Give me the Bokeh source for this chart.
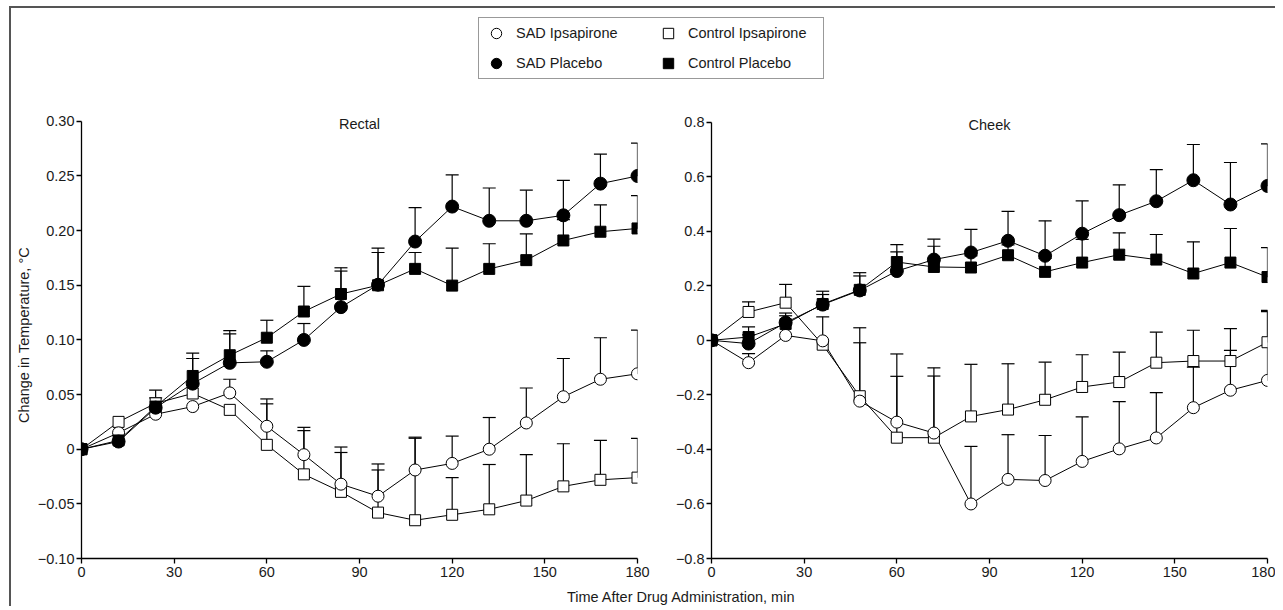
from bokeh.plotting import figure
from bokeh.models import (ColumnDataSource, Whisker, TeeHead, FixedTicker, Label,
                          Legend, LegendItem)
from bokeh.layouts import column, row
from bokeh.embed import file_html
from bokeh.resources import INLINE

# ---------------- data ----------------
times = [0, 12, 24, 36, 48, 60, 72, 84, 96, 108, 120, 132, 144, 156, 168, 180]

# Rectal
sad_ips_r = [0, 0.015, 0.032, 0.039, 0.0515, 0.021, -0.005, -0.032, -0.043, -0.019, -0.013, 0.000, 0.024, 0.048, 0.064, 0.069]
sad_ips_r_top = [0, 0.015, 0.032, 0.039, 0.064, 0.046, 0.020, 0.002, -0.0135, 0.010, 0.012, 0.029, 0.056, 0.083, 0.102, 0.109]
ctl_ips_r = [0, 0.025, 0.042, 0.051, 0.036, 0.004, -0.023, -0.039, -0.058, -0.065, -0.060, -0.055, -0.047, -0.034, -0.028, -0.026]
ctl_ips_r_top = [0, 0.025, 0.042, 0.051, 0.036, 0.0415, 0.017, -0.003, -0.019, 0.011, -0.026, -0.014, -0.005, 0.005, 0.008, 0.010]
sad_pla_r = [0, 0.007, 0.038, 0.060, 0.079, 0.080, 0.100, 0.130, 0.1505, 0.190, 0.222, 0.209, 0.209, 0.214, 0.243, 0.250]
sad_pla_r_top = [0, 0.007, 0.047, 0.083, 0.1055, 0.090, 0.115, 0.163, 0.180, 0.221, 0.251, 0.239, 0.237, 0.246, 0.270, 0.280]
ctl_pla_r = [0, 0.008, 0.039, 0.067, 0.086, 0.102, 0.126, 0.142, 0.150, 0.165, 0.1497, 0.165, 0.173, 0.191, 0.199, 0.202]
ctl_pla_r_top = [0, 0.008, 0.054, 0.088, 0.1085, 0.118, 0.149, 0.166, 0.184, 0.180, 0.184, 0.188, 0.197, 0.210, 0.2235, 0.232]

# Cheek
sad_ips_c = [0, -0.082, 0.018, -0.002, -0.223, -0.300, -0.340, -0.600, -0.510, -0.514, -0.444, -0.398, -0.358, -0.247, -0.183, -0.147]
sad_ips_c_top = [0, -0.049, 0.018, 0.086, 0.046, -0.050, -0.101, -0.389, -0.346, -0.349, -0.281, -0.225, -0.192, -0.098, -0.037, 0.105]
ctl_ips_c = [0, 0.104, 0.138, -0.016, -0.205, -0.357, -0.357, -0.279, -0.254, -0.218, -0.171, -0.153, -0.082, -0.076, -0.076, -0.007]
ctl_ips_c_top = [0, 0.141, 0.205, -0.016, -0.009, -0.132, -0.131, -0.088, -0.086, -0.080, -0.053, -0.043, 0.030, 0.037, 0.043, 0.110]
sad_pla_c = [0, -0.012, 0.065, 0.131, 0.183, 0.254, 0.296, 0.322, 0.365, 0.310, 0.391, 0.459, 0.510, 0.587, 0.498, 0.566]
sad_pla_c_top = [0, 0.020, 0.100, 0.180, 0.248, 0.324, 0.371, 0.407, 0.473, 0.438, 0.511, 0.570, 0.626, 0.718, 0.652, 0.720]
ctl_pla_c = [0, 0.012, 0.060, 0.133, 0.185, 0.287, 0.269, 0.267, 0.312, 0.251, 0.285, 0.314, 0.296, 0.245, 0.285, 0.232]
ctl_pla_c_top = [0, 0.049, 0.090, 0.168, 0.236, 0.351, 0.345, 0.310, 0.350, 0.300, 0.370, 0.394, 0.388, 0.361, 0.410, 0.340]

series_names = ["SAD Ipsapirone", "Control Ipsapirone", "SAD Placebo", "Control Placebo"]

x_ticks = [0, 30, 60, 90, 120, 150, 180]
rect_ticks = [-0.10, -0.05, 0.0, 0.05, 0.10, 0.15, 0.20, 0.25, 0.30]
rect_tick_labels = ["\u22120.10", "\u22120.05", "0", "0.05", "0.10", "0.15", "0.20", "0.25", "0.30"]
cheek_ticks = [-0.8, -0.6, -0.4, -0.2, 0.0, 0.2, 0.4, 0.6, 0.8]
cheek_tick_labels = ["\u22120.8", "\u22120.6", "\u22120.4", "\u22120.2", "0", "0.2", "0.4", "0.6", "0.8"]

# ---------------- styles ----------------
FONT = "Liberation Sans"
FS = "14.5px"
TXT = "#1a1a1a"
STYLES = {
    "SAD Ipsapirone": dict(marker="circle", size=12, fill_color="white"),
    "Control Ipsapirone": dict(marker="square", size=11, fill_color="white"),
    "SAD Placebo": dict(marker="circle", size=13, fill_color="black"),
    "Control Placebo": dict(marker="square", size=11, fill_color="black"),
}
DRAW_ORDER = ["Control Ipsapirone", "SAD Ipsapirone", "SAD Placebo", "Control Placebo"]


def make_panel(width, min_left, min_right, y_rng, y_bounds, yticks, ylabels, title, data,
               ylabel=None):
    p = figure(width=width, height=486, x_range=(0, 180), y_range=y_rng,
               output_backend="svg", toolbar_location=None,
               min_border_left=min_left, min_border_right=min_right,
               min_border_top=11, min_border_bottom=28)
    p.outline_line_color = None
    p.grid.visible = False
    p.background_fill_color = "white"
    p.border_fill_color = "white"

    for ax in (p.xaxis[0], p.yaxis[0]):
        ax.axis_line_color = "black"
        ax.axis_line_width = 1.3
        ax.major_tick_line_color = "black"
        ax.major_tick_line_width = 1.3
        ax.major_tick_in = 0
        ax.major_tick_out = 5
        ax.minor_tick_line_color = None
        ax.major_label_text_font = FONT
        ax.major_label_text_font_size = FS
        ax.major_label_text_color = TXT
    p.xaxis.ticker = FixedTicker(ticks=x_ticks)
    p.xaxis.major_label_standoff = 3
    p.yaxis.ticker = FixedTicker(ticks=yticks)
    p.yaxis.major_label_overrides = dict(zip(yticks, ylabels))
    p.yaxis.major_label_standoff = 2
    p.yaxis.bounds = y_bounds
    if ylabel:
        p.yaxis.axis_label = ylabel
        p.yaxis.axis_label_text_font = FONT
        p.yaxis.axis_label_text_font_size = FS
        p.yaxis.axis_label_text_font_style = "normal"
        p.yaxis.axis_label_text_color = TXT
        p.yaxis.axis_label_standoff = 3

    # lines
    for name in DRAW_ORDER:
        vals, _ = data[name]
        p.line(times, vals, line_color="black", line_width=1)

    # error bars (upward only)
    for name in DRAW_ORDER:
        vals, tops = data[name]
        xs = [t for t, v, u in zip(times, vals, tops) if u > v]
        lo = [v for v, u in zip(vals, tops) if u > v]
        hi = [u for v, u in zip(vals, tops) if u > v]
        src = ColumnDataSource(dict(x=xs, lo=lo, hi=hi))
        w = Whisker(base="x", lower="lo", upper="hi", source=src,
                    line_color="black", line_width=1.2,
                    upper_head=TeeHead(size=13, line_color="black", line_width=1.2),
                    lower_head=None, level="underlay")
        p.add_layout(w)

    # markers
    for name in DRAW_ORDER:
        vals, _ = data[name]
        st = STYLES[name]
        p.scatter(times, vals, marker=st["marker"], size=st["size"],
                  fill_color=st["fill_color"], line_color="black", line_width=1)

    p.add_layout(Label(x=90, y=y_bounds[1], y_offset=-3, text=title, text_align="center",
                       text_baseline="middle", text_font=FONT, text_font_size=FS,
                       text_color=TXT))
    return p


rect_data = {
    "SAD Ipsapirone": (sad_ips_r, sad_ips_r_top),
    "Control Ipsapirone": (ctl_ips_r, ctl_ips_r_top),
    "SAD Placebo": (sad_pla_r, sad_pla_r_top),
    "Control Placebo": (ctl_pla_r, ctl_pla_r_top),
}
cheek_data = {
    "SAD Ipsapirone": (sad_ips_c, sad_ips_c_top),
    "Control Ipsapirone": (ctl_ips_c, ctl_ips_c_top),
    "SAD Placebo": (sad_pla_c, sad_pla_c_top),
    "Control Placebo": (ctl_pla_c, ctl_pla_c_top),
}

left = make_panel(661, 70, 35, (-0.10, 0.309), (-0.10, 0.30), rect_ticks, rect_tick_labels,
                  "Rectal", rect_data, ylabel="Change in Temperature, \u00b0C")
right = make_panel(603, 39, 8, (-0.8, 0.839), (-0.8, 0.8), cheek_ticks, cheek_tick_labels,
                   "Cheek", cheek_data)

# ---------------- legend figure ----------------
lf = figure(width=1264, height=92, x_range=(0, 1), y_range=(0, 1),
            x_axis_location=None, y_axis_location=None, min_border=0,
            output_backend="svg", toolbar_location=None)
lf.outline_line_color = None
lf.grid.visible = False
legend_src = {
    "SAD Ipsapirone": sad_ips_r, "Control Ipsapirone": ctl_ips_r,
    "SAD Placebo": sad_pla_r, "Control Placebo": ctl_pla_r,
}
items = []
for name in series_names:
    st = STYLES[name]
    r = lf.scatter(times, legend_src[name], marker=st["marker"], size=st["size"],
                   fill_color=st["fill_color"], line_color="black", line_width=1)
    r.visible = False
    items.append(LegendItem(label=name, renderers=[r]))
leg = Legend(items=items, location=(467, 21), orientation="horizontal", ncols=2,
             glyph_width=30, glyph_height=26, label_height=26, label_width=133,
             label_standoff=5, padding=2, spacing=4, margin=0,
             label_text_font=FONT, label_text_font_size=FS, label_text_color=TXT,
             border_line_color="#333333", border_line_width=1,
             background_fill_color="white", background_fill_alpha=1,
             inactive_fill_alpha=0)
lf.add_layout(leg)

# ---------------- x label figure ----------------
xf = figure(width=1264, height=20, x_range=(0, 1), y_range=(0, 1),
            x_axis_location=None, y_axis_location=None, min_border=0,
            output_backend="svg", toolbar_location=None)
xf.outline_line_color = None
xf.grid.visible = False
xf.add_layout(Label(x=670, y=10, x_units="screen", y_units="screen",
                    text="Time After Drug Administration, min", text_align="center",
                    text_baseline="middle", text_font=FONT, text_font_size=FS,
                    text_color=TXT))

layout = column(lf, row(left, right), xf,
                styles={"border-left": "2px solid #555555", "border-top": "2px solid #555555",
                        "margin-left": "9px", "margin-top": "6px"})

open("out.html", "w").write(file_html(layout, INLINE))
